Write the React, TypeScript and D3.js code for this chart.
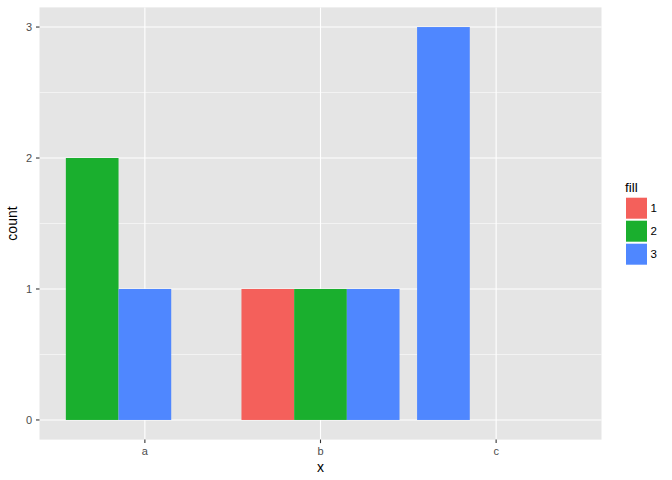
import React from "react";
import * as d3 from "d3";

const categories = ["a", "b", "c"];
const fillLevels = ["1", "2", "3"];
const barX = ["a", "a", "b", "b", "b", "c"];
const barFill = ["2", "3", "1", "2", "3", "3"];
const barCount = [2, 1, 1, 1, 1, 3];
const yTicks = [0, 1, 2, 3];
const yMinor = [0.5, 1.5, 2.5];
const fillColors = ["#F4605B", "#1AAF2E", "#4F87FF"];

const W = 672, H = 480;
const panel = { left: 39.5, right: 601.5, top: 7.4, bottom: 439.6 };
const FONT = "'Liberation Sans', Arial, Helvetica, sans-serif";

export default function App() {
  const x = d3.scaleLinear().domain([0.4, categories.length + 0.6]).range([panel.left, panel.right]);
  const y = d3.scaleLinear().domain([-0.15, 3.15]).range([panel.bottom, panel.top]);
  const color = d3.scaleOrdinal<string, string>().domain(fillLevels).range(fillColors);
  const nSlots = 3;
  const slotW = 0.9 / nSlots;

  const slotIdx: number[] = [];
  const seen: Record<string, number> = {};
  barX.forEach((c, i) => {
    seen[c] = (seen[c] ?? -1) + 1;
    slotIdx[i] = seen[c];
  });

  return (
    <svg width={W} height={H} style={{ position: "absolute", left: 0, top: 0, background: "#fff" }} fontFamily={FONT}>
      <rect x={panel.left} y={panel.top} width={panel.right - panel.left} height={panel.bottom - panel.top} fill="#E5E5E5" />
      {yMinor.map((v) => (
        <line key={"mn" + v} x1={panel.left} x2={panel.right} y1={y(v)} y2={y(v)} stroke="#fff" strokeWidth={0.55} />
      ))}
      {yTicks.map((v) => (
        <line key={"mj" + v} x1={panel.left} x2={panel.right} y1={y(v)} y2={y(v)} stroke="#fff" strokeWidth={1.1} />
      ))}
      {categories.map((c, i) => (
        <line key={"vx" + c} x1={x(i + 1)} x2={x(i + 1)} y1={panel.top} y2={panel.bottom} stroke="#fff" strokeWidth={1.1} />
      ))}
      {barX.map((c, i) => {
        const ci = categories.indexOf(c) + 1;
        const x0 = ci - 0.45 + slotIdx[i] * slotW;
        return (
          <rect
            key={"b" + i}
            x={x(x0)}
            width={x(x0 + slotW) - x(x0)}
            y={y(barCount[i])}
            height={y(0) - y(barCount[i])}
            fill={color(barFill[i])}
          />
        );
      })}
      {yTicks.map((v) => (
        <g key={"yt" + v}>
          <line x1={panel.left - 3.5} x2={panel.left} y1={y(v)} y2={y(v)} stroke="#333" strokeWidth={1.1} />
          <text x={panel.left - 7.5} y={y(v)} dy="0.36em" textAnchor="end" fontSize={11} fill="#4D4D4D">{v}</text>
        </g>
      ))}
      {categories.map((c, i) => (
        <g key={"xt" + c}>
          <line x1={x(i + 1)} x2={x(i + 1)} y1={panel.bottom} y2={panel.bottom + 3.5} stroke="#333" strokeWidth={1.1} />
          <text x={x(i + 1)} y={panel.bottom + 15.6} textAnchor="middle" fontSize={11} fill="#4D4D4D">{c}</text>
        </g>
      ))}
      <text x={(panel.left + panel.right) / 2} y={472} textAnchor="middle" fontSize={14} fill="#000">x</text>
      <text transform={`translate(17.3, ${(panel.top + panel.bottom) / 2}) rotate(-90)`} textAnchor="middle" fontSize={14} fill="#000">count</text>
      <text x={625} y={191.7} fontSize={13.5} fill="#000">fill</text>
      {fillLevels.map((f, i) => (
        <g key={"lg" + f}>
          <rect x={626} y={197.7 + i * 23} width={21} height={21} fill={color(f)} />
          <text x={650.5} y={197.7 + i * 23 + 10.5} dy="0.36em" fontSize={11.5} fill="#000">{f}</text>
        </g>
      ))}
    </svg>
  );
}
